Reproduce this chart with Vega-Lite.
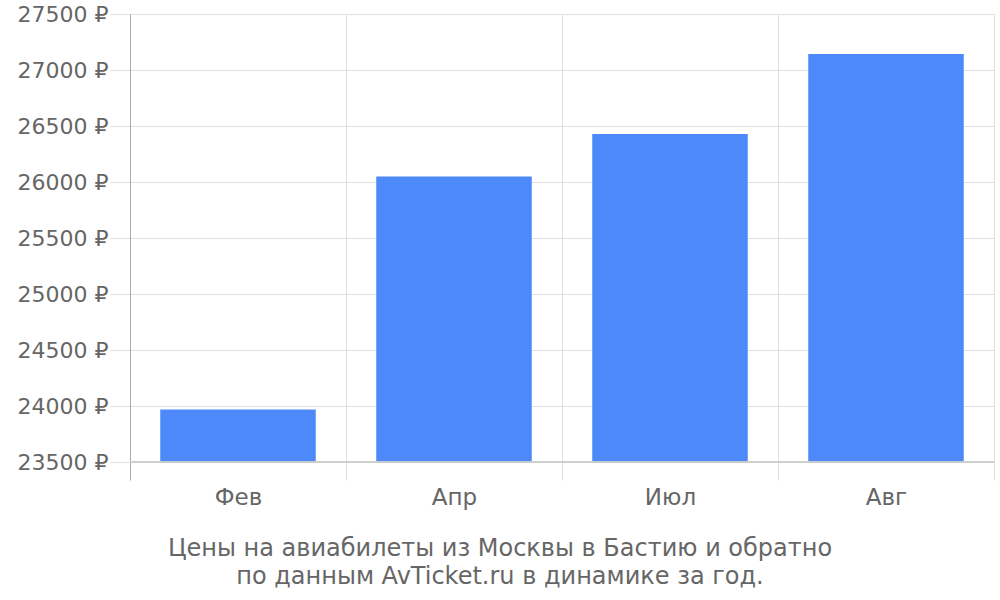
{
  "$schema": "https://vega.github.io/schema/vega-lite/v6.json",
  "autosize": "none",
  "width": 864,
  "height": 466,
  "padding": {"left": 130, "top": 14, "right": 6, "bottom": 120},
  "background": "white",
  "config": {"font": "DejaVu Sans", "view": {"stroke": null}},
  "title": {
    "text": ["Цены на авиабилеты из Москвы в Бастию и обратно", "по данным AvTicket.ru в динамике за год."],
    "orient": "bottom",
    "anchor": "middle",
    "fontSize": 24,
    "fontWeight": "normal",
    "color": "#666666",
    "offset": 28,
    "lineHeight": 28,
    "dx": -62
  },
  "data": {
    "values": [
      {"month": "Фев", "price": 23969},
      {"month": "Апр", "price": 26049},
      {"month": "Июл", "price": 26429},
      {"month": "Авг", "price": 27143}
    ]
  },
  "layer": [
    {
      "mark": {"type": "bar", "color": "#4D89F9", "width": {"band": 0.72}},
      "encoding": {
        "x": {
          "field": "month", "type": "nominal", "sort": null,
          "scale": {"paddingInner": 0, "paddingOuter": 0},
          "axis": {
            "title": null, "domain": false, "ticks": false, "grid": true,
            "tickBand": "extent", "gridColor": "#e0e0e0", "labelAngle": 0,
            "labelFontSize": 23, "labelColor": "#666666", "labelPadding": 6
          }
        },
        "y": {
          "field": "price", "type": "quantitative",
          "scale": {"domain": [23339.3, 27500], "nice": false, "zero": false},
          "axis": {
            "title": null,
            "values": [23500, 24000, 24500, 25000, 25500, 26000, 26500, 27000, 27500],
            "labelExpr": "datum.value + ' ₽'",
            "labelFontSize": 22, "labelColor": "#666666", "labelPadding": 2,
            "tickSize": 20, "tickColor": "#e0e0e0", "gridColor": "#e0e0e0",
            "domainColor": "#aaaaaa", "labelFlush": false
          }
        },
        "y2": {"datum": 23500}
      }
    },
    {
      "mark": {"type": "rule", "color": "#cccccc"},
      "encoding": {"y": {"datum": 23500}}
    }
  ]
}
